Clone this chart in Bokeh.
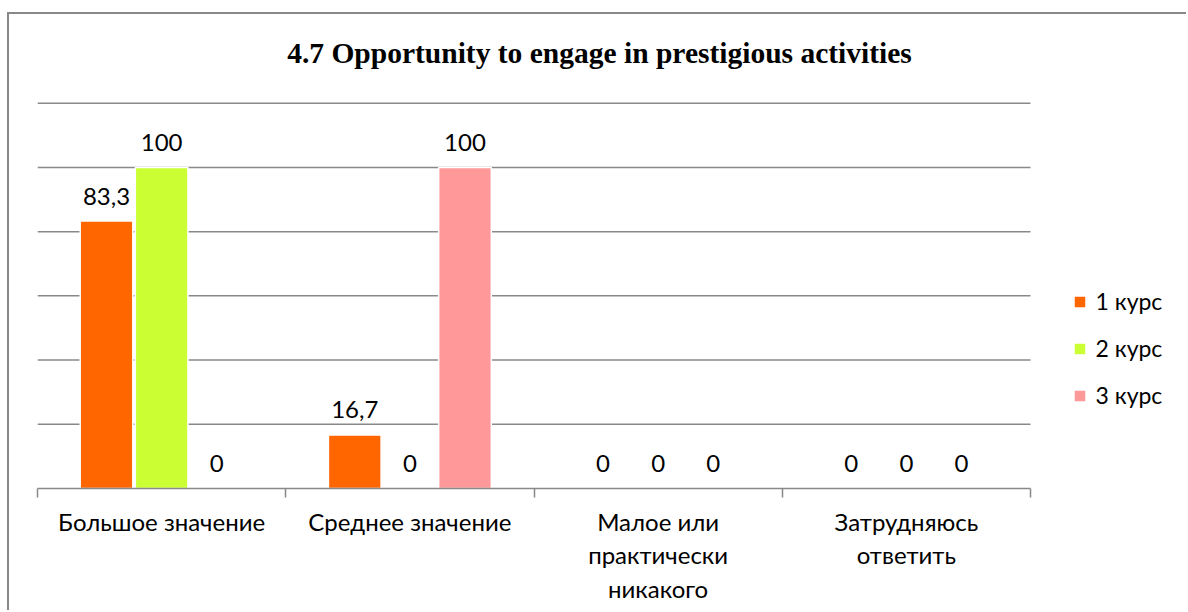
from bokeh.plotting import figure
from bokeh.models import Range1d, FixedTicker, Legend, LegendItem, ColumnDataSource, Label
from bokeh.embed import file_html
from bokeh.resources import INLINE

# ---- data ----
categories = ["Большое значение", "Среднее значение",
              "Малое или\nпрактически\nникакого", "Затрудняюсь\nответить"]
series_names = ["1 курс", "2 курс", "3 курс"]
kurs1 = [83.3, 16.7, 0, 0]
kurs2 = [100, 0, 0, 0]
kurs3 = [0, 100, 0, 0]
series_values = [kurs1, kurs2, kurs3]
series_colors = ["#FF6600", "#CCFF33", "#FF9999"]
y_ticks = [20, 40, 60, 80, 100, 120]
title_text = "4.7 Opportunity to engage in prestigious activities"

GRAY = "#898989"
FONT = "Lato"
n = len(categories)

# layout (pixels)
W, H = 1179, 598
LEFT, BOTTOM = 28, 124
frame_w = W - LEFT
frame_h = H - BOTTOM
cat_px = 993 / n            # pixels per category
unit_px = 385.3 / 120       # pixels per value unit

x_end = frame_w / cat_px
y_end = frame_h / unit_px

p = figure(width=W, height=H, output_backend="svg", toolbar_location=None,
           x_range=Range1d(0, x_end), y_range=Range1d(0, y_end),
           min_border_left=LEFT, min_border_right=0, min_border_top=0,
           min_border_bottom=BOTTOM)
p.title.visible = False
p.styles = {"border-left": f"2px solid {GRAY}", "border-top": f"2px solid {GRAY}",
            "margin-top": "12px", "margin-left": "7px"}
p.outline_line_color = None
p.background_fill_color = "white"
p.border_fill_color = "white"

# title (centred over the whole chart area)
title = Label(x=562 / cat_px, y=(frame_h - 38.7) / unit_px, text=title_text,
              text_align="center", text_baseline="alphabetic",
              text_font="Liberation Serif", text_font_style="bold",
              text_font_size="29.5px", text_color="black")
p.add_layout(title)

# axes / grid
p.yaxis.visible = False
p.xgrid.visible = False
p.ygrid.visible = False
p.segment(x0=[0] * len(y_ticks), x1=[n] * len(y_ticks), y0=y_ticks, y1=y_ticks,
          line_color=GRAY, line_width=1.5)

xa = p.xaxis[0]
xa.bounds = (0, n)
xa.ticker = FixedTicker(ticks=[i + 0.5 for i in range(n)],
                        minor_ticks=list(range(n + 1)))
xa.major_label_overrides = {i + 0.5: c for i, c in enumerate(categories)}
xa.axis_line_color = GRAY
xa.axis_line_width = 1.5
xa.major_tick_line_color = None
xa.major_tick_out = 0
xa.major_tick_in = 0
xa.minor_tick_line_color = GRAY
xa.minor_tick_line_width = 1.5
xa.minor_tick_out = 9
xa.minor_tick_in = 0
xa.major_label_standoff = 9
xa.major_label_text_font = FONT
xa.major_label_text_font_size = "24px"
xa.major_label_text_color = "black"
xa.major_label_text_line_height = 1.16

# bars
offsets = [-0.222, 0.0, 0.222]
bar_w = 0.212
items = []
for name, vals, col, off in zip(series_names, series_values, series_colors, offsets):
    src = ColumnDataSource(dict(
        x=[i + 0.5 + off for i in range(n)],
        top=vals,
        lbl=[f"{v:g}".replace(".", ",") for v in vals],
    ))
    r = p.vbar(x="x", top="top", width=bar_w, bottom=0, source=src,
               fill_color=col, line_color="white", line_width=1.5)
    p.text(x="x", y="top", text="lbl", source=src, text_align="center",
           text_baseline="alphabetic", y_offset=-25, text_font_size="24px",
           text_font={"value": FONT}, text_color="black")
    items.append(LegendItem(label=name, renderers=[r]))

legend = Legend(items=items, location=(1034.5, 79), orientation="vertical",
                label_text_font=FONT, label_text_font_size="23px",
                label_text_color="black", glyph_width=15, glyph_height=15,
                label_standoff=9, spacing=19, label_height=26,
                padding=0, margin=0, border_line_color=None,
                background_fill_alpha=0)
p.add_layout(legend)

open("out.html", "w").write(file_html(p, INLINE))
